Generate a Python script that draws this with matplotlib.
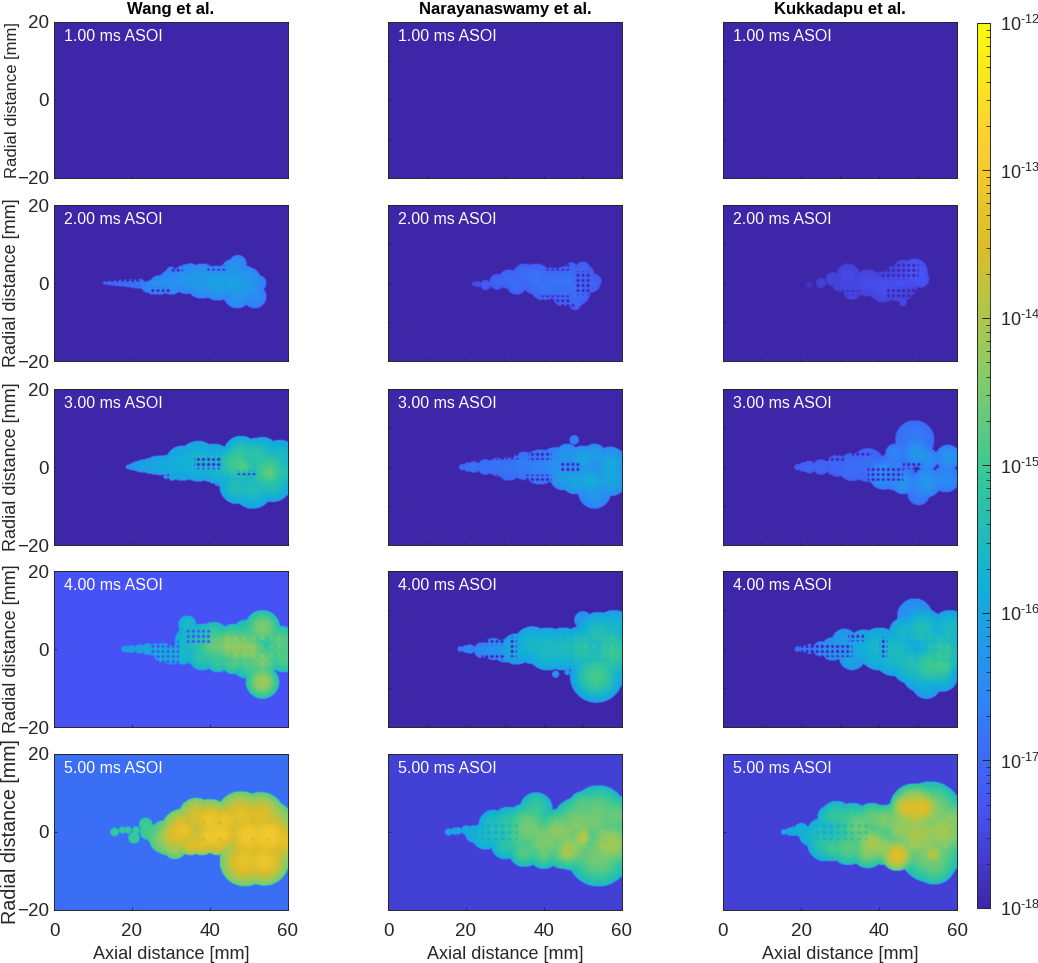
import numpy as np
import matplotlib
matplotlib.use('Agg')
import matplotlib.pyplot as plt
from matplotlib.colors import LinearSegmentedColormap, LogNorm
from matplotlib.cm import ScalarMappable

plt.rcParams['font.family'] = ['Liberation Sans', 'DejaVu Sans']
plt.rcParams['mathtext.fontset'] = 'custom'
plt.rcParams['mathtext.rm'] = 'Liberation Sans'
plt.rcParams['mathtext.default'] = 'regular'

# ------- values -------
mechanisms = ['Wang et al.', 'Narayanaswamy et al.', 'Kukkadapu et al.']
times = ['1.00 ms ASOI', '2.00 ms ASOI', '3.00 ms ASOI', '4.00 ms ASOI', '5.00 ms ASOI']
x_ticks = [0, 20, 40, 60]
x_ticks_fine = [0, 10, 20, 30, 40, 50, 60]
y_ticks = [-20, 0, 20]
y_ticks_fine = [-20, -10, 0, 10, 20]
cbar_ticks = [1e-18, 1e-17, 1e-16, 1e-15, 1e-14, 1e-13, 1e-12]
cbar_labels = ['$10^{\\text{-18}}$', '$10^{\\text{-17}}$', '$10^{\\text{-16}}$', '$10^{\\text{-15}}$',
               '$10^{\\text{-14}}$', '$10^{\\text{-13}}$', '$10^{\\text{-12}}$']

# parula stops: (position, r, g, b)
parula = [(0.00, .2422, .1504, .6603), (0.11, .2810, .3228, .9579),
          (0.24, .1786, .5289, .9682), (0.37, .0689, .6948, .8394),
          (0.49, .2161, .7843, .5923), (0.62, .5709, .7960, .3790),
          (0.75, .8634, .7406, .1590), (0.87, .9892, .8136, .1885),
          (1.00, .9763, .9831, .0538)]

# log10 of the background level, row by row, one per mechanism
backgrounds = [[-18, -18, -18], [-18, -18, -18], [-18, -18, -18],
               [-17.34, -18, -18], [-16.9, -17.6, -17.6]]

# plume pieces: (x mm, y mm, radius mm, log10 at centre, log10 at rim)
wang_1 = [(43, 1.0, 0.25, -17.7, -17.9)]
nara_1 = []
kukk_1 = []

wang_2 = [(13, 0, .5, -16.9, -17.1), (14, 0, .6, -16.9, -17.1), (15, 0, .7, -16.9, -17.1),
          (16, 0, .8, -16.9, -17.1), (17, 0, .9, -16.9, -17.1), (18, 0, .95, -16.9, -17.1),
          (19, -.1, 1.0, -16.8, -17), (20, -.1, 1.1, -16.8, -17), (21, -.2, 1.2, -16.8, -17),
          (22, -.2, 1.3, -16.8, -17), (24, -1, 1.5, -16.4, -16.8), (25.5, -1, 2, -16.4, -16.8),
          (27, -.5, 2.5, -16.3, -16.7), (30, .2, 3.2, -16.3, -16.7), (34, 1, 3.8, -16.2, -16.7),
          (38, .5, 4.5, -16.1, -16.7), (42, 0, 4.5, -16.0, -16.7), (46, 0, 4.5, -16.0, -16.7),
          (48, -.5, 5.2, -16.1, -16.7), (47, -3, 3.5, -16.2, -16.7), (46, 3, 3.2, -16.2, -16.7),
          (47.2, 5, 2.2, -16.4, -16.8), (51.5, -3.5, 3, -16.4, -16.8), (52.5, 0, 2, -16.4, -16.8),
          (50, 1, 3, -16.2, -16.7), (35, 3.5, 1.6, -16.4, -16.7), (30, 3, 1.2, -16.5, -16.8)]
nara_2 = [(22, -.2, .6, -17.4, -17.7), (23, -.3, .8, -17.3, -17.6), (25, -.5, 1.3, -17.1, -17.4),
          (28, .3, 2, -17.0, -17.3), (31, 1, 2.5, -16.9, -17.2), (33, -.5, 2.5, -16.9, -17.2),
          (35, 2, 3, -16.9, -17.2), (38, 1, 4, -16.8, -17.2), (40, -1, 3.5, -16.8, -17.2),
          (42, 0, 4, -16.8, -17.2), (46, .5, 4, -16.8, -17.2), (48, -2, 4, -16.9, -17.2),
          (45, -3, 3, -16.9, -17.2), (50, 2, 3, -17.0, -17.3), (52, 0, 2.5, -17.0, -17.3),
          (53, .5, 1.8, -17.1, -17.4), (50, 3.5, 2, -17.0, -17.3), (47, 3.5, 1.8, -17.0, -17.3),
          (48, -5.5, 1.5, -17.0, -17.3)]
kukk_2 = [(22, -.5, .8, -17.7, -17.85), (25, 0, 1.3, -17.55, -17.7), (28, 1, 1.8, -17.5, -17.65),
          (30, -.5, 2, -17.5, -17.65), (32, 2, 3, -17.45, -17.6), (33, -2, 2.3, -17.45, -17.6),
          (37, 0, 3.5, -17.4, -17.6), (41, -1, 4, -17.35, -17.6), (45, 0, 4.8, -17.35, -17.6),
          (49, 3, 3.3, -17.2, -17.45), (50.5, 1, 2.2, -17.25, -17.5), (46, 3.5, 2.5, -17.35, -17.55),
          (46, -5, 1, -17.4, -17.6)]

wang_3 = [(19, 0, .6, -16.2, -16.4), (20, .1, .9, -16.2, -16.4), (21, .2, 1.2, -16.1, -16.3),
          (22, .2, 1.5, -16.1, -16.3), (23, .3, 1.7, -16.0, -16.3), (24.5, .3, 2, -16, -16.3),
          (26, .4, 2.4, -15.95, -16.2), (27.5, .4, 2.6, -15.95, -16.2), (29, .3, 2.8, -15.9, -16.2),
          (30, -1, 2.5, -15.9, -16.2), (33, 1, 4.5, -15.8, -16.1), (37, 1.5, 5.2, -15.7, -16.1),
          (41, 1, 5, -15.7, -16.1), (43, -.5, 4.5, -15.6, -16.1), (47, 1, 5, -14.9, -16.0),
          (48, 3.5, 4.5, -15.2, -16.1), (47, -5, 4.5, -15.4, -16.1), (52, 3, 4.5, -15.2, -16.1),
          (53.5, 3.5, 4.2, -15.5, -16.1), (51, -5.5, 5.2, -15.4, -16.2), (48.4, .3, 2.5, -14.7, -15.5),
          (55, -1, 6, -14.9, -16.1), (55.3, -1.4, 2.5, -14.6, -15.3), (56, -4, 5, -15.3, -16.2),
          (58, 3, 4, -15.5, -16.2), (58, -1.2, 4.5, -15.3, -16.1)]
nara_3 = [(19, 0, .8, -16.9, -17.1), (20.5, 0, 1.2, -16.9, -17.1), (22, 0, 1.5, -16.8, -17),
          (25, 0, 2, -16.8, -17), (28, 0, 2.4, -16.8, -17), (31, -.5, 3, -16.8, -17),
          (35, .3, 3.6, -16.7, -16.9), (39, 0, 4.5, -16.6, -16.9), (43, .8, 4.3, -16.4, -16.8),
          (45, -2.5, 3.5, -16.1, -16.6), (50, 2, 3.5, -16.0, -16.6), (47.8, 7, 1.2, -16.6, -16.8),
          (46, 3, 3, -16.2, -16.6), (48, -3.5, 3.5, -15.9, -16.5), (52, -3.5, 3.5, -15.8, -16.5),
          (53, -6.5, 4.2, -16.2, -16.7), (53, 3, 3, -16.1, -16.6), (57, 1, 4.2, -15.9, -16.6),
          (57, -3, 4.5, -15.9, -16.6), (48, 0, 1.8, -16.5, -16.7)]
kukk_3 = [(19, 0, .8, -17.1, -17.3), (20.5, 0, 1.2, -17.1, -17.3), (22, 0, 1.6, -17.0, -17.2),
          (25, 0, 2, -17.0, -17.2), (29, .3, 2.8, -17.0, -17.2), (33, 0, 3.6, -16.9, -17.1),
          (37, .5, 4.3, -16.9, -17.1), (41, -2, 3.8, -16.3, -16.8), (44, -1, 5, -16.6, -17),
          (49, 7, 5, -16.7, -17.0), (49.5, 3.5, 3.5, -16.2, -16.8), (46, -4, 3, -16.2, -16.8),
          (52, -4, 3.8, -16.2, -16.8), (50, -7, 2.8, -16.6, -17), (57.5, 2.5, 3.2, -16.2, -16.8),
          (57, -3, 3.5, -16.4, -16.9), (52, 2, 3, -16.3, -16.8), (44, 3.5, 2.5, -16.5, -16.9)]

wang_4 = [(18, 0, .8, -16.0, -16.2), (19, 0, .9, -16, -16.2), (20, 0, 1, -16, -16.2),
          (22, 0, 1.2, -16, -16.2), (24, 0, 1.5, -15.9, -16.1), (26, -.3, 1.7, -15.8, -16),
          (28, -1, 2.5, -15.7, -16), (30, -1.5, 2.5, -15.7, -16), (33, -1, 3, -15.6, -15.9),
          (35, 2, 4, -15.5, -15.9), (34.2, 6.3, 2.3, -15.5, -15.9), (38, 2, 4.5, -15.2, -15.8),
          (38, -2, 3.5, -15.2, -15.8), (41, 1, 4.5, -14.6, -15.7), (41, 3, 4, -14.9, -15.7),
          (42, -3, 3, -15, -15.7), (45, 1, 4.5, -14.3, -15.5), (46, 3, 3.5, -14.8, -15.6),
          (46, -3.5, 3, -14.8, -15.6), (47, .5, 5, -14.3, -15.5), (50, 0, 4.5, -14.3, -15.5),
          (50, 3, 3.5, -14.8, -15.6), (50, -4, 3.5, -14.8, -15.6), (53.5, 5.5, 4.5, -14.4, -15.6),
          (53.5, -8.5, 4.3, -14.1, -15.6), (53.5, -3, 4, -14.5, -15.5), (49, 4.5, 3, -15.1, -15.7),
          (49, -4.5, 3, -15.1, -15.7), (58, 0, 5, -14.8, -15.7), (58, 2, 4, -14.7, -15.6),
          (59, -2, 4, -14.8, -15.6)]
nara_4 = [(18.5, 0, .7, -16.6, -16.8), (20, 0, 1, -16.5, -16.7), (21, 0, 1.2, -16.5, -16.7),
          (24, -.3, 2, -16.4, -16.7), (27, 0, 2.8, -16.3, -16.6), (30, -.5, 3, -16.2, -16.5),
          (33, 0, 4, -15.8, -16.3), (37, 1, 4.8, -15.6, -16.2), (41, 0, 5.5, -15.5, -16.1),
          (45, 0, 5.5, -15.5, -16.1), (50, 7.5, 2.2, -16.2, -16.5), (49, -8, 1.5, -16.2, -16.5),
          (43, -6.5, .9, -16.3, -16.5), (46, -6, .7, -16.3, -16.5), (50, 0, 6, -15.3, -16.2),
          (53.5, -7, 6.8, -14.9, -16.3), (54, 4, 5.5, -15.4, -16.2), (58, 5, 5, -15.6, -16.2),
          (58, -1, 6, -15.1, -16.0), (57, 2, 3, -15.2, -15.7)]
kukk_4 = [(19, 0, .7, -16.7, -16.9), (20.5, 0, 1, -16.7, -16.9), (22, 0, 1.3, -16.6, -16.8),
          (25, 0, 2, -16.4, -16.7), (28, 0, 3, -16.2, -16.5), (31, 2, 3.2, -16.1, -16.4),
          (33, -2, 3.4, -16.0, -16.3), (36, 1, 4, -15.8, -16.2), (40, 0, 5.5, -15.6, -16.1),
          (44, -1, 6, -15.5, -16.1), (49, 8.5, 4.5, -16.2, -16.6), (46, 4.5, 3.5, -15.6, -16.2),
          (51, 5, 5.5, -15.4, -16.3), (48, -4, 5, -15.4, -16.2), (50, -7, 4, -15.6, -16.3),
          (53, -4.5, 5.5, -15.0, -16.2), (52, -9, 3.8, -15.8, -16.4), (56, -7, 4, -15.5, -16.3),
          (56, -1, 6.5, -15.2, -16.2), (58, 5, 5, -15.5, -16.2), (56, -4.5, 3, -14.9, -15.5)]

wang_5 = [(15.5, 0, 1.1, -15.0, -15.2), (17.5, .5, .9, -15, -15.2), (19, .5, .9, -15, -15.2),
          (21, .5, 1, -15, -15.2), (20.5, -1.5, 1.5, -15, -15.2), (23.5, 2, 1.7, -14.9, -15.2),
          (24, 0, 2, -14.9, -15.2), (26, -.5, 2.5, -14.8, -15.1), (28, 0, 3, -14.5, -15),
          (28, -2, 3.5, -14.3, -15), (29, -3, 3, -14.2, -15), (31, -4, 3, -14, -15),
          (31, -1, 4.5, -13.4, -14.8), (33, .5, 5.5, -13.2, -14.8), (35, -3, 3, -13.3, -14.6),
          (36.5, 4.3, 4.5, -13.5, -14.8), (38, -3, 3, -13.2, -14.5), (40, 3, 5.5, -13.1, -14.8),
          (42, -3, 3, -13.2, -14.5), (44, 3, 4.5, -13.1, -14.7), (40, -1, 4.5, -13.0, -14.5),
          (43, -.5, 4.5, -13.0, -14.5), (48, 4, 6.5, -13.3, -14.8), (53, 4, 6.3, -13.4, -14.9),
          (56, 3, 5, -13.7, -14.9), (49, -7.5, 6.5, -13.2, -14.8), (54, -7.5, 6.3, -13.1, -14.8),
          (57, -5, 4.5, -13.5, -14.9), (50, -1, 6, -13.0, -14.3), (55, -1, 6, -12.95, -14.3),
          (59, -2, 5, -13.3, -14.8)]
nara_5 = [(15.5, 0, .9, -15.9, -16.1), (17, .2, .9, -15.9, -16.1), (18, .3, .9, -15.9, -16.1),
          (20, .5, 1.2, -15.8, -16), (22, -.5, 2.2, -15.8, -16.1), (25, -1, 3.5, -15.5, -16),
          (27, 2, 3.7, -15.4, -16), (28, 0, 4, -15.3, -16), (30, -3.5, 3.5, -15.2, -16),
          (31, 2, 4.5, -15.1, -15.9), (34, -1, 5.5, -14.8, -15.8), (35, -5, 4, -14.7, -15.8),
          (36, 1, 6.5, -14.5, -15.7), (38, 6, 4.2, -15.0, -15.8), (40, -2, 6.5, -14.4, -15.8),
          (40, -5.5, 4, -14.6, -15.8), (44, 0, 6, -14.3, -15.6), (45, -5, 4.5, -14.5, -15.7),
          (47, -4, 5.8, -14.2, -15.6), (49, 2, 7, -14.4, -15.6), (50, 7, 3.5, -14.7, -15.6),
          (53, 3, 6.5, -14.5, -15.6), (54, 5, 7, -14.6, -15.7), (54, -6, 8, -14.5, -15.7),
          (58, 4, 5.5, -14.6, -15.6), (57, -3, 6.5, -14.1, -15.6), (46, -5, 2.5, -13.9, -14.8),
          (50, -1.5, 1.5, -13.5, -14.3)]
kukk_5 = [(15.5, 0, .7, -15.9, -16.1), (17, .1, 1, -15.9, -16.1), (18, .2, 1.2, -15.8, -16),
          (20, .5, 1.8, -15.7, -16), (22, -1, 2.5, -15.6, -16), (25, 0, 3.5, -15.4, -15.9),
          (26, -3, 4.5, -15.2, -15.9), (27, 4, 2.8, -15.3, -15.8), (29, 4, 4, -15.1, -15.8),
          (28, -4, 3.5, -14.9, -15.8), (31, 0, 4.5, -15.1, -15.8), (32, -4, 4.5, -14.7, -15.7),
          (33, 3, 4.5, -14.9, -15.7), (35, 1, 5.5, -14.5, -15.6), (37, -5, 4.3, -14.3, -15.6),
          (38, -3, 5, -14.0, -15.6), (38, 3.5, 4, -14.6, -15.5), (41, -4, 4.5, -14.2, -15.5),
          (44.5, -6, 4, -13.3, -15.0), (41, 3, 4, -14.4, -15.4), (44, 3, 4.5, -14.4, -15.4),
          (49, 6, 6.5, -13.5, -15.5), (47, 6.2, 3.5, -13.4, -14.6), (51, 6.2, 3.5, -13.3, -14.6),
          (46, 1, 5, -14.2, -15.2), (50, -1, 6, -14.0, -15.1), (53, 5, 8, -14.3, -15.6),
          (53, -5, 8, -14.4, -15.6), (54, -8, 5.5, -14.6, -15.6), (56, 0, 7, -14.1, -15.5),
          (53.7, -5.7, 1.3, -13.4, -14.2), (58, 3, 5, -14.3, -15.4)]

# rectangles with a lattice of gaps in them: (x0, x1, y0, y1)
wang_gaps = [[], [(30, 33, 3, 4.5), (25, 30, -3, -1), (39, 44, 3.2, 4.3), (12, 22, 0.3, 1)],
             [(27, 30, -3.5, -2), (36, 43, -.5, 2.5), (38, 42, -5, -4), (47, 52, -2, -1)],
             [(25, 32, -4, 2), (34, 40, 1.5, 5.3)], []]
nara_gaps = [[], [(40, 47, 3.2, 4.8), (39, 47, -5, -3.2), (48, 52, -3, 3), (44, 48, -6, -5)],
             [(26, 34, 2, 3.5), (36, 42, 1.8, 4), (23, 28, -3, -2), (35, 42, -3.5, -2), (44, 49, -1, 1)],
             [(21, 30, 1, 3), (24, 30, -3, -1.5), (31, 33, -2, 3)], []]
kukk_gaps = [[], [(40, 50, 1, 5), (42, 50, -4, -1), (28, 35, -3, -2)],
             [(26, 31, 1.5, 3.5), (33, 38, 3, 4), (24, 28, -3, -2), (37, 46, -3.5, 0), (46, 51, -.5, 1)],
             [(20, 33, -2, 1.5), (32, 36, 2, 4), (40, 42, -2, 3)], []]

# rectangles with brighter or darker spots: (x0, x1, y0, y1, spacing mm, added log10)
wang_spots = [[], [], [(34, 44, -2, 4, 1.6, .25)], [(42, 58, -4, 4, 2.3, .3)],
              [(30, 58, -6, 3, 4.2, -.35)]]
nara_spots = [[], [], [], [(46, 58, -4, 4, 2.3, .25)],
              [(24, 34, -2, 3, 1.8, -.5), (38, 58, -4, 3, 4.2, .3)]]
kukk_spots = [[], [], [], [(46, 58, -4, 4, 2.3, .25)],
              [(24, 38, -2, 2, 1.8, -.5), (40, 58, -4, 3, 4.2, .3)]]

plumes = [[wang_1, nara_1, kukk_1], [wang_2, nara_2, kukk_2], [wang_3, nara_3, kukk_3],
          [wang_4, nara_4, kukk_4], [wang_5, nara_5, kukk_5]]
gaps = [wang_gaps, nara_gaps, kukk_gaps]
spots = [wang_spots, nara_spots, kukk_spots]

# ------- layout in pixels of the 1038x963 picture -------
W, H = 1038, 963
col_left = [54, 388, 723]
row_top = [22, 205, 389, 571, 754]
ax_w, ax_h = 234, 156
ylabel_size = [12, 13, 13, 13, 14.2]
dark = '#262626'

cmap = LinearSegmentedColormap.from_list('parula', [(p[0], p[1:]) for p in parula], N=256)
norm = LogNorm(vmin=1e-18, vmax=1e-12)

xs = np.arange(0, 60.01, 0.125)
ys = np.arange(-20, 20.01, 0.125)
X, Y = np.meshgrid(xs, ys)


def blur(a, kernel):
    a = np.apply_along_axis(lambda v: np.convolve(v, kernel, mode='same'), 0, a)
    return np.apply_along_axis(lambda v: np.convolve(v, kernel, mode='same'), 1, a)


wide = np.exp(-0.5 * (np.arange(-12, 13) / 5.0)**2)
wide = wide / wide.sum()
thin = np.array([.25, .5, .25])


def build_field(bg, blobs, gap_boxes, spot_boxes):
    field = np.full(X.shape, -99.0)
    plume = np.zeros(X.shape, dtype=bool)
    for x0, y0, r, core, rim in blobs:
        d = np.hypot(X - x0, Y - y0) / r
        v = np.where(d < 1, rim + (core - rim) * (1 - d**2), -99)
        field = np.maximum(field, v)
        plume |= d < 1
    # smooth inside the plume only, the outline stays sharp
    if plume.any():
        top = blur(np.where(plume, field, 0.0), wide)
        low = blur(plume.astype(float), wide)
        field = np.where(plume, top / np.maximum(low, 1e-6), bg)
    else:
        field = np.full(X.shape, float(bg))
    for x0, x1, y0, y1, step, dv in spot_boxes:
        near = np.hypot((X - x0 + step / 2) % step - step / 2, (Y - y0 + step / 2) % step - step / 2) < 0.5
        box = (X >= x0) & (X <= x1) & (Y >= y0) & (Y <= y1) & near & plume
        field[box] += dv
    for x0, x1, y0, y1 in gap_boxes:
        near = np.hypot((X % 1.3) - 0.65, (Y % 1.3) - 0.65) < 0.42
        box = (X >= x0) & (X <= x1) & (Y >= y0) & (Y <= y1) & near
        field[box] = bg
    # slight softening, the source picture is a blurry raster
    field = blur(field, thin)
    field[[0, -1], :] = field[[1, -2], :]
    field[:, [0, -1]] = field[:, [1, -2]]
    return 10.0**field


fig = plt.figure(figsize=(W / 100, H / 100), dpi=100)

for r in range(5):
    for c in range(3):
        ax = fig.add_axes([col_left[c] / W, 1 - (row_top[r] + ax_h) / H, ax_w / W, ax_h / H])
        data = build_field(backgrounds[r][c], plumes[r][c], gaps[c][r], spots[c][r])
        ax.imshow(data, origin='lower', extent=[0, 60, -20, 20], cmap=cmap, norm=norm,
                  aspect='auto', interpolation='bilinear')
        ax.set_xlim(0, 60)
        ax.set_ylim(-20, 20)
        ax.text(2.5, 16.3, times[r], color='white', fontsize=11.5, va='center', ha='left')

        fine = c > 0 and r < 4
        ax.set_xticks(x_ticks_fine if fine else x_ticks)
        ax.set_yticks(y_ticks_fine if fine else y_ticks)
        ax.tick_params(direction='in', length=2, width=0.6, color=dark, labelcolor=dark, labelsize=13.5)
        ax.tick_params(axis='x', pad=9)
        if r < 4:
            ax.tick_params(labelbottom=False)
        else:
            ax.set_xlabel('Axial distance [mm]', fontsize=13, color=dark, labelpad=5)
        if c > 0:
            ax.tick_params(labelleft=False)
        else:
            ax.set_ylabel('Radial distance [mm]', fontsize=ylabel_size[r], color=dark)
            # x is the right edge of the rotated text
            ax.yaxis.set_label_coords((20 - 54) / ax_w, 0.5)
        for s in ax.spines.values():
            s.set_linewidth(0.7)
            s.set_color(dark)
        if r == 0:
            ax.set_title(mechanisms[c], fontsize=12, fontweight='bold', color='black', pad=6)

# colorbar with ticks pointing inwards
cax = fig.add_axes([977 / W, 1 - 908 / H, 13 / W, 885 / H])
cb = fig.colorbar(ScalarMappable(norm=norm, cmap=cmap), cax=cax)
cb.set_ticks(cbar_ticks, labels=cbar_labels)
cb.ax.tick_params(which='major', direction='in', length=6, width=0.7, color=dark, labelcolor=dark,
                  labelsize=13, pad=7)
cb.ax.tick_params(which='minor', direction='in', length=3, width=0.6, color=dark)
cb.outline.set_linewidth(0.7)
cb.outline.set_edgecolor(dark)

fig.savefig('out.png', dpi=100)
